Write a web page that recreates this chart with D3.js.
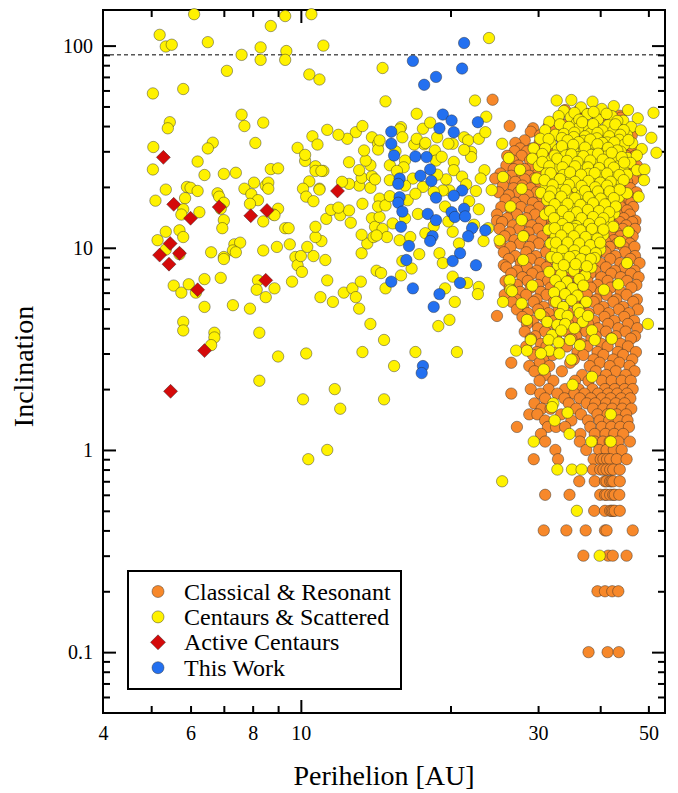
<!DOCTYPE html>
<html><head><meta charset="utf-8">
<script src="https://cdn.jsdelivr.net/npm/d3@7"></script>
<style>body{margin:0;background:#fff}svg{display:block}</style>
</head><body>
<svg id="chart" width="678" height="793"></svg>
<script>
// ---------- axis ticks ----------
const xTickLabels = [4, 6, 8, 10, 30, 50];
const xMinorTicks = [5, 6, 7, 8, 9, 20, 30, 40, 50];
const xMajorTicks = [10];
const yTickLabels = [0.1, 1, 10, 100];
const yMajorTicks = [0.1, 1, 10, 100];
const yMinorTicks = [0.06,0.07,0.08,0.09,0.2,0.3,0.4,0.5,0.6,0.7,0.8,0.9,2,3,4,5,6,7,8,9,20,30,40,50,60,70,80,90];
const seriesNames = ["Classical & Resonant", "Centaurs & Scattered", "Active Centaurs", "This Work"];
const referenceInclination = 90;
const xTitle = "Perihelion [AU]";
const yTitle = "Inclination";

// ---------- Classical & Resonant : rows of [inclination, [perihelion AU ...]] ----------
const classicalRows = [
[54,[24.3]],[48,[34.0,36.3]],[46,[37.6,41.0]],[45,[43.8]],[44,[33.0,36.0,40.0,44.0]],[43,[39.5]],
[40.5,[34.0,36.5,39.0,42.5]],[40,[26.3,31.5]],[39,[29.3]],[38,[32.5,35.0,37.5,40.0,42.5]],
[37.5,[29.0,44.8]],[36,[30.3,43.5,46.3]],[34.5,[33.5,36.0,38.5,41.5]],[34,[28.2,31.6,44.5]],[33,[27.0,30.2,42.6,45.6]],
[31.5,[32.0,34.5,37.0,39.5,42.0]],
[31,[27.6,29.2,43.2,46.5]],[30,[26.9,28.5,31.0,33.5,44.3]],[28.5,[26.0,27.8,29.6,45.2,47.0]],[28,[31.0,33.5,38.5,41.0]],
[27,[26.7,28.9,30.5,43.6,46.1]],[26,[36.0]],[25.5,[25.9,27.4,29.3,44.7,47.4]],[25,[32.0,34.5,37.5,40.0,42.5]],[24.5,[26.8,28.2,31.2,43.1,45.8]],
[23.3,[25.2,27.6,30.0,44.6,47.2]],[22.7,[26.5,28.8,43.3,45.9]],[22.3,[33.0,35.5,38.0,41.0]],[22,[24.6,29.5,31.6,39.5,42.9]],
[21.8,[25.8,28.2,44.0,46.6]],[21.2,[27.0,30.8,45.3]],[20.5,[32.0,34.5,37.0,40.0,42.5]],[20.3,[25.5,27.9,30.3,44.8]],[19.7,[26.8,29.0,43.5,46.0]],
[19,[33.5,36.0,38.5,41.5]],
[18.8,[25.0,27.4,29.8,44.2,47.3]],[18.2,[26.2,28.6,31.2,42.9,45.5]],[18,[35.0]],[17.6,[32.0,34.5,37.5,40.0,42.0]],
[17.3,[25.8,28.1,30.6,44.9]],[16.7,[27.0,29.3,43.6,46.2]],[16.3,[33.0,35.5,38.5,41.5]],[16,[40.5]],
[15.9,[25.3,27.7,30.1,44.0,46.6]],[15.3,[26.5,28.9,31.5,42.7,45.3]],[14.8,[32.0,34.0,36.5,39.5,41.5]],
[14.6,[24.8,27.2,29.6,43.3,45.9]],[14.0,[26.0,28.4,30.9,38.0,44.6]],[13.9,[33.0,35.5,40.0]],[13.6,[24.8,34.5,47.1]],
[13.4,[25.4,27.9,30.4,43.8,46.4]],[12.9,[26.7,29.1,32.0,34.0,37.5,40.5,42.5,45.1]],
[12.4,[25.1,27.5,30.0,44.4,47.0]],[11.9,[26.3,28.7,31.4,41.0,43.1,45.7]],[11.7,[33.0,35.5,38.5,42.0]],
[11.4,[25.7,28.1,30.6,43.9,46.5]],[10.9,[26.9,29.3,33.0,42.6,45.2]],[10.7,[32.0,34.5,36.5,39.5,41.0]],
[10.5,[25.2,27.6,30.1,37.0,43.3,45.9]],[10.1,[26.4,28.8,31.6,41.8,44.6,46.9]],[9.8,[33.0,35.5,38.0,40.5]],
[9.5,[25.6,28.4,31.1,34.2,41.0,44.9]],[9.1,[27.0,29.7,32.6,39.2,42.9,47.0]],[9.0,[33.5,36.5,38.0]],
[8.8,[26.2,29.0,31.8,38.2,41.9,46.0]],[8.4,[27.7,30.3,33.3,40.0,43.9,48.0]],[8.2,[25.6,35.2,36.8]],
[8.0,[25.9,28.5,31.2,34.1,37.3,41.1,44.8]],[7.7,[27.2,29.8,32.7,35.7,39.1,42.8,46.9]],
[7.45,[26.5,29.2,32.0,35.0,38.2,42.1,46.1]],[7.15,[27.9,30.5,33.5,36.5,40.2,44.0,47.8]],
[6.85,[25.8,28.6,31.4,34.4,37.7,41.4,45.3]],[6.55,[27.2,30.0,32.9,36.0,39.5,43.3,47.3]],
[6.35,[26.3,29.0,31.8,35.0,38.3,42.0,46.2]],[6.05,[27.6,30.4,33.4,36.6,40.1,44.0]],
[5.85,[25.7,28.4,31.2,34.3,37.6,41.2,45.2]],[5.55,[27.1,29.8,32.7,35.9,39.3,43.1,47.4]],
[5.4,[26.6,29.4,32.3,35.4,38.8,42.5,46.6]],[5.1,[28.0,30.8,33.8,37.0,40.6,44.5]],
[4.95,[27.2,30.0,33.0,36.2,39.7,43.6,47.6]],[4.75,[28.6,31.5,34.6,37.9,41.6,45.7]],[4.6,[24.8]],
[4.55,[27.9,30.8,33.8,37.1,40.8,44.7]],[4.35,[29.3,32.3,35.4,38.9,42.7,46.8]],
[4.2,[28.5,31.4,34.5,37.8,41.5,45.5]],[4.0,[30.0,32.9,36.1,39.6,43.5,47.5]],
[3.85,[28.2,31.0,34.2,37.5,41.1,45.0]],[3.65,[29.6,32.6,35.8,39.2,43.0,47.0]],
[3.55,[29.0,31.9,35.0,38.4,42.1,46.1]],[3.35,[30.4,33.4,36.7,40.2,44.0]],
[3.25,[28.4,31.2,34.3,37.7,41.4,45.5]],[3.05,[29.8,32.8,36.0,39.5,43.4,47.2]],
[2.95,[29.3,32.1,37.0,40.6,44.5]],[2.8,[30.7,35.4,38.8,42.5,46.4]],
[2.7,[26.5,30.2,34.8,39.9,43.7]],[2.6,[28.8,31.6,38.1,41.8,45.8]],
[2.45,[29.5,33.5,39.2,43.0,46.9]],[2.35,[31.0,36.8,41.1,45.0]],
[2.2,[30.2,32.2,35.6,37.9,40.3,42.2,44.2,46.1]],
[2.0,[29.0,31.5,34.0,36.2,38.6,40.9,42.8,44.8,46.5]],
[1.9,[26.5,30.3,32.8,35.5,37.2,39.6,41.5,43.3,45.3]],
[1.8,[31.0,33.9,36.4,38.3,40.3,42.0,44.1,46.0]],
[1.7,[29.5,34.6,37.6,39.1,41.1,43.0,44.8]],
[1.6,[30.5,31.8,35.8,38.7,40.6,42.3,44.3,46.2]],
[1.5,[28.8,29.9,33.4,36.6,39.5,41.4,43.2,45.1]],
[1.4,[31.0,35.0,37.8,39.9,41.7,43.6,45.4]],
[1.3,[27.2,31.4,32.6,34.0,38.2,40.3,42.1,43.9,45.7]],
[1.2,[30.4,36.5,39.0,41.0,42.7,44.5]],
[1.1,[31.0,36.4,39.0,40.5,41.8,43.5,45.9]],
[1.0,[32.5,37.5,39.8,41.2,42.6,44.2]],
[0.9,[29.4,32.9,38.8,40.1,40.6,41.3,41.9,43.2,45.2]],
[0.8,[38.7,40.0,40.6,41.2,41.9,42.5,43.8]],
[0.7,[36.3,39.0,40.9,41.2,41.9,42.2,42.5,43.8]],
[0.6,[31.0,34.7,40.0,40.9,41.2,41.9,42.5,42.8,43.7]],
[0.5,[38.9,40.9,41.9,42.2,42.5,42.8,43.8]],
[0.4,[30.8,34.2,37.4,40.9,41.2,46.5]],
[0.3,[37.0,41.5,42.4,45.2]],
[0.2,[39.5,40.9,42.3,43.5]],
[0.1,[37.9,41.4,43.6]]
];

// ---------- Centaurs & Scattered beyond ~25 AU : [perihelion AU, inclination] ----------
const scatteredOuter = [
[32.7,53.5],[35.0,53.8],[38.6,52.8],[42.6,50.2],[45.5,48.0],[51.2,46.5],[33.8,47.5],[36.6,49.5],[40.3,48.6],[34.9,44.2],[37.7,45.8],[39.6,43.1],[42.2,44.8],[44.5,42.5],[47.6,43.7],[31.6,42.0],[35.9,41.5],
[35.5,46.5],[38.8,47.0],[41.2,46.0],[43.3,42.4],[36.3,43.0],[33.0,44.8],
[33.2,40.8],[37.4,40.2],[39.3,39.0],[41.5,40.4],[43.6,38.6],[46.2,39.6],[31.0,38.1],[34.7,37.4],[36.1,38.9],[38.2,36.7],[40.7,36.3],[42.4,37.6],[45.3,36.0],[32.5,36.2],[50.7,35.0],[48.3,38.1],
[34.6,39.6],[36.8,41.8],[38.7,40.9],[40.4,38.0],[42.9,40.8],[44.6,38.2],[33.8,36.6],[35.5,37.1],[37.3,35.6],[39.5,37.0],[41.7,35.6],[43.9,36.2],
[30.3,34.6],[33.5,34.9],[35.4,35.3],[37.0,33.8],[39.4,34.8],[41.3,33.2],[43.7,34.2],[46.4,32.9],[31.8,32.9],[34.2,32.4],[36.5,31.6],[38.5,32.1],[40.2,31.0],[42.6,31.5],[44.7,32.3],[29.4,31.0],[32.9,30.6],[35.3,30.2],[37.6,29.8],[39.7,30.7],[44.0,29.9],[48.5,30.8],[51.9,29.5],
[31.5,34.5],[34.4,34.0],[36.2,33.3],[38.2,34.3],[40.4,33.0],[42.7,33.2],[45.6,34.1],[33.5,31.8],[35.3,32.3],[37.3,31.3],[39.5,32.5],[41.5,31.2],[43.3,30.3],[31.0,31.0],
[30.6,29.1],[34.1,28.6],[36.1,28.1],[38.4,28.8],[41.2,28.3],[42.9,27.4],[45.4,27.8],[47.4,28.6],[29.2,27.6],[31.9,27.2],[33.2,26.3],[35.3,26.6],[37.2,26.0],[39.3,26.9],[40.6,25.6],[43.5,25.3],[46.0,26.3],[26.2,27.8],[30.1,25.4],[32.5,24.9],[34.5,24.4],[36.6,24.8],[38.8,24.1],[41.7,24.5],[44.6,24.0],[47.4,24.2],[49.1,24.4],[27.6,24.3],[25.4,32.7],
[32.4,28.6],[35.0,29.0],[37.0,28.4],[39.6,29.2],[42.2,29.5],[44.2,28.1],[30.6,26.6],[32.8,27.6],[34.3,26.9],[36.0,26.6],[38.2,27.0],[40.5,27.3],[41.8,26.1],[44.7,26.4],[31.6,25.3],[33.6,25.0],[35.6,25.3],[37.8,25.0],[39.8,24.8],[42.6,24.9],
[31.2,23.3],[33.7,22.9],[35.6,22.5],[37.9,23.2],[40.1,22.7],[42.6,22.2],[45.3,23.0],[29.8,22.0],[32.3,21.6],[34.8,21.3],[36.9,21.8],[39.2,20.9],[41.1,21.5],[43.4,21.1],[49.0,21.6],[25.5,22.4],[31.1,20.3],[33.5,20.0],[35.9,19.7],[38.2,20.2],[40.4,19.5],[42.2,19.9],[27.8,19.6],[30.4,18.7],[32.7,18.6],[34.3,18.2],[36.7,18.4],[38.9,18.0],[41.4,18.3],[43.6,17.8],[45.3,18.6],[47.8,17.9],
[31.8,23.4],[34.8,23.6],[36.6,23.0],[39.0,23.4],[41.3,23.3],[43.7,22.9],[30.9,21.6],[33.2,21.9],[35.6,21.2],[37.9,21.4],[40.0,21.0],[42.0,21.2],[44.6,21.6],[32.1,20.4],[34.6,20.5],[36.7,20.2],[39.1,19.9],[41.3,20.3],
[31.3,17.2],[33.8,16.8],[35.4,16.4],[37.6,16.9],[39.9,16.2],[42.0,16.6],[26.4,16.0],[32.2,15.6],[34.5,15.3],[36.6,15.7],[38.6,15.1],[40.8,15.4],[42.7,14.8],[31.0,14.6],[33.3,14.2],[35.7,14.4],[37.8,14.0],[39.7,14.5],[41.6,13.9],[27.8,13.7],[32.4,13.2],[34.9,13.1],[36.9,13.5],[39.0,13.0],[40.9,12.8],[42.5,12.7],
[31.9,19.0],[34.1,19.3],[37.3,19.1],[39.6,19.0],[41.8,19.0],[43.8,19.4],[31.6,17.9],[33.4,17.9],[35.6,17.6],[37.9,17.8],[40.1,17.5],[42.6,17.6],[32.4,16.4],[34.4,16.5],[36.5,16.3],[38.7,16.6],[40.9,16.4],[43.0,16.0],[31.7,15.2],[33.6,15.2],[35.9,15.0],[37.8,15.4],[39.8,15.2],[41.7,15.0],[32.3,14.0],[34.6,14.2],[36.7,14.0],[38.7,14.2],[40.6,14.0],[33.6,13.1],[35.8,12.8],[38.0,13.1],[40.0,13.3],
[31.5,12.3],[33.6,12.1],[35.5,12.4],[37.4,11.9],[39.5,12.0],[45.6,12.0],[28.0,11.4],[32.5,11.3],[34.4,11.5],[36.4,11.1],[38.4,11.2],[40.6,11.6],[31.8,10.5],[33.4,10.2],[35.3,10.6],[37.2,10.3],[39.1,10.5],[43.8,10.7],[25.1,10.9],[32.6,9.7],[34.6,9.5],[36.3,9.9],[38.2,9.6],[40.0,9.8],
[32.4,12.5],[34.5,12.5],[36.5,12.2],[38.5,12.4],[40.6,12.3],[33.4,11.5],[35.4,11.4],[37.4,11.3],[39.5,11.1],[32.6,10.6],[34.4,10.6],[36.3,10.5],[38.2,10.3],[40.0,10.6],[33.6,9.7],[35.5,9.7],[37.3,9.6],[39.2,9.4],
[31.9,9.0],[33.8,8.8],[35.6,9.1],[37.5,8.7],[39.0,8.9],[28.0,8.7],[32.9,8.2],[34.8,8.0],[36.7,8.3],[38.4,8.0],[45.3,8.4],[31.6,7.6],[33.4,7.4],[35.4,7.7],[37.3,7.3],[32.5,6.9],[34.3,6.8],[36.3,7.0],[26.3,6.9],[33.2,6.4],[35.2,6.3],[37.0,6.5],[43.5,6.6],[29.2,6.5],[26.4,6.2],[40.7,6.2],[26.6,6.1],[32.3,6.0],[34.0,5.9],[36.0,5.8],
[32.8,8.9],[34.7,9.0],[36.6,8.8],[38.3,8.8],[33.8,8.2],[35.7,8.3],[37.6,8.1],
[25.5,5.4],[32.6,5.4],[35.0,5.5],[37.5,5.4],[27.8,5.3],[33.7,5.1],[36.1,5.0],[30.3,4.7],[33.2,4.7],[36.4,4.75],[34.4,4.6],[28.5,4.4],[31.3,4.3],[36.9,4.3],[49.9,4.2],[32.8,4.15],[34.0,4.2],[35.5,4.0],[37.8,4.6],[32.0,3.7],[33.4,3.9],[38.5,3.9],[29.0,3.5],[31.5,3.5],[34.8,3.5],[39.0,3.5],[42.2,3.55],[33.0,3.4],[36.4,3.3],[27.1,3.1],[28.5,3.1],[31.6,3.1],[30.4,3.0],[33.1,3.0],[35.0,2.8],
[30.8,2.5],[38.5,2.3],[35.2,2.1],[32.2,1.7],[32.0,1.63],[34.4,1.53],[42.0,1.5],[32.4,1.4],[34.7,1.2],[29.4,1.1],[38.4,1.1],[42.0,1.1],[32.8,0.8],[35.1,0.8],[36.7,0.8],[25.4,0.7],[35.9,0.5],[39.9,0.3]
];

// ---------- Centaurs & Scattered inside ~25 AU : [perihelion AU, inclination] ----------
const scatteredInner = [
[6.1,143],[5.2,113],[5.35,99],[5.5,101],[6.5,104],[7.6,90],[8.3,98],[8.3,85],[8.7,125],[9.3,140],[9.35,94],[9.3,85],[10.5,143],[11.1,100],[7.1,75],[5.04,58],[5.8,61],[10.4,72],[10.9,68],[14.6,77.5],[23.9,109],
[7.6,45.5],[7.7,40],[8.4,41.6],[5.45,41.8],[5.4,39],[8.1,33],[5.05,31.5],[6.65,33.1],[6.5,31],[5.04,24.4],[6.2,26.7],[6.4,22.9],[7.0,23.2],[7.4,23.5],[8.7,24.5],[9.0,24.7],
[11.3,38.3],[10.55,35.6],[10.8,32.4],[9.85,31.2],[10.2,26.9],[10.2,28.8],[10.7,25.3],[11.1,24],[10.7,24],[10.4,21.3],[10.1,19.6],[10.25,17.9],[10.6,17],[10.9,19.6],
[8.05,21],[7.7,19.6],[7.95,18.4],[8.5,20.3],[8.6,21],[8.2,17.2],[7.9,16.5],[9.0,15.6],[8.8,14.6],[8.4,13.5],[9.3,12.5],[9.45,12.5],[9.5,10.4],[8.95,10.1],[8.4,9.7],[7.35,10.4],[7.55,10.6],[7.3,9.7],[6.6,9.5],[7.0,9.0],
[5.35,19.4],[5.1,17.1],[5.85,17.6],[5.8,15.5],[5.75,14.6],[5.9,20],[6.0,19.8],[6.2,19.1],[6.25,15],[6.8,18.6],[6.85,17.9],[7.0,16.7],[6.9,15.6],[7.0,13.7],[6.95,12.5],[5.7,12.2],[5.8,11.3],[5.35,12],[5.15,10.9],[5.7,9.3],
[8.6,19.6],[8.85,14.5],[5.35,9.8],[7.0,8.8],[7.4,9.5],[9.75,9.0],
[5.55,6.5],[5.75,6.0],[5.95,6.6],[6.4,7.0],[6.9,7.1],[6.15,6.0],[6.4,5.1],[7.3,5.2],[7.9,5.0],[8.2,6.9],[8.15,6.2],[8.5,5.7],[8.85,6.3],[9.6,6.8],[9.85,8.2],
[5.8,4.3],[5.8,3.9],[6.7,3.8],[6.7,3.6],[6.6,3.3],[8.25,3.8],[9.0,2.9],[8.25,2.2],
[14.8,53],[17.1,46],[22.4,53.5],[23.6,44.5],[17.6,38.8],[18.2,41.6],[18.8,35.2],[15.9,39.5],[20.2,32.7],[21.3,35.2],[21.7,34],[22.8,34.6],[23.5,37.3],[22,29.8],[22,28.1],[18.6,30.3],[18.7,27],[17.7,32.5],[16.9,32.4],[16.2,27],[15.1,25.6],[20.3,26.6],[20.3,24.2],[21.1,22.5],[19.6,21.8],[19.9,19.2],[19.3,19.2],[22.5,19.1],[23.4,24.2],[24.2,19.3],[18.5,18.9],[17.2,14.7],[16.4,17.2],[20.2,12],[19,9.4],[19.3,8.4],[23.3,10.8],[22.8,6.4],[22.7,5.9],[20.4,5.4],[19.9,4.4],[18.9,4.1],[19.5,6.3],[20.2,7.2],[21.6,6.7],[17.3,9.3],[16.7,7.9],[16,8.6],[15.9,7.3],[14.8,6.3],[14.2,7.7],[14.5,7.5],[13.8,4.2],[14.7,3.5],[13.3,3.05],[15.4,2.6],[17,3.05],[20.6,3.05],[10.25,3.0],[11.7,2.0],[10.95,5.7],[11.6,5.4],[12.2,6],[12.7,6.3],[13.2,6.8],[12.9,5.7],[13.1,5],[11.3,6.9],[10.05,7.6],[10.6,9.1],[11.2,8.7],[10,9.1],[13.25,9.4],[13.6,10.5],[14,11.3],[13.25,11.6],[11,10.8],[10.3,10.1],[10.7,11.3],[10.7,12.7],[12.6,13.3],[11.25,13.9],[12,14.5],[12.5,15.3],[11.5,15.4],[11.9,15.8],[13.3,16.5],[13.9,14],[14.1,12.7],[14.4,14.2],[14.6,12.4],[14.9,11.3],[15.8,10.9],[14.2,11.5],[14.4,17.5],[14.3,16],[14.8,16.2],[15.1,18],[16.6,11.3],[15.3,13.2],[13.8,19.8],[13.1,20.3],[13.25,22.2],[13.9,22.6],[14.1,21.8],[13.8,25.6],[13.5,27],[13.4,30.3],[12.9,37.3],[13.3,40],[13.9,35.2],[14.3,32.7],[14.3,30.6],[12.4,34.6],[11.9,36.2],[10.9,19.4],[11,24],[12.5,26.5],[13.1,24.2],[12.5,20.7],[12.1,21.2],[15.1,21.6],[16.1,25],[14.4,34],[15.8,38.5],[16,35.2],[17.1,34.6],[17.8,33],[19.8,32.7],[21.3,30.5],
[15.6,24],[16.8,22],[17.6,20],[18.8,23],[19.5,16],[21.8,17],[22.8,15.5],[21.5,20.6],[17,18.5],[16.2,14],[18.5,12.8],[19.8,13.5],[22.3,13],[23.8,12.5],[20.8,10.5],[17.8,11.8],[16.2,20.3],[23,22],[15.5,30],[19.2,28.2],
[10.1,1.78],[12,1.6],[11.3,1.0],[10.35,0.9],[14.7,1.78]
];

// ---------- Active Centaurs [AU, inclination] ----------
const activeCentaurs = [
[5.29,28],[5.55,16.4],[6.0,14.0],[6.85,15.9],[7.93,14.4],[8.55,15.3],[5.46,10.5],[5.2,9.2],[5.7,9.4],[5.43,8.3],[6.2,6.2],[8.5,6.9],[6.4,3.1],[5.47,1.95],[11.85,19.1]
];

// ---------- This Work [AU, inclination] ----------
const thisWork = [
[19.3,45.6],[20.1,42.6],[19.0,39],[20.3,37.3],[22.7,41.8],[15.2,37.5],[15.2,32.7],[15.4,28.6],[17.0,28.3],[17.9,28.1],[18.2,24.4],[17.4,22.7],[18.3,21.4],[15.8,22],[15.7,20.7],[18.7,17.7],[21.1,19.2],[20.3,18.1],[15.8,17.8],[15.7,16.7],[16.0,15.1],[18.0,14.7],[18.7,13.7],[20.1,15],[21.3,15.6],[20.4,14.2],[21.4,14.3],[22.1,12.5],[21.7,11.4],[23.5,12.2],[15.9,12.7],[18.4,11.4],[18.2,10.8],[16.5,10.2],[20.9,9.4],[20.2,8.6],[22.5,8.2],[16.3,8.7],[15.2,6.8],[16.8,6.3],[20.9,6.7],[19.0,5.9],[18.5,5.1],[17.6,2.6],[17.5,2.4],
[16.8,84],[18.7,70],[17.7,64],[21.3,103],[21.1,77]
];

// ---------- build ----------
const classical = classicalRows.flatMap(([inc, aus]) => aus.map(a => [a, inc]));
const scattered = scatteredInner.concat(scatteredOuter);

const L = 103, R = 665, T = 10, B = 713;
const x = d3.scaleLog().domain([4, 54]).range([L, R]);
const y = d3.scaleLog().domain([0.05, 150]).range([B, T]);
const svg = d3.select("#chart");
const FONT = "'Liberation Serif','Times New Roman',serif";

const colors = {orange:"#f7882a", yellow:"#fff200", red:"#d40a0a", blue:"#2370f0"};
const strokeC = "rgba(40,40,40,0.55)";

// reference line
svg.append("line").attr("x1", L).attr("x2", R)
  .attr("y1", y(referenceInclination)).attr("y2", y(referenceInclination))
  .attr("stroke", "#000").attr("stroke-width", 1).attr("stroke-dasharray", "4,3");

// axes ticks
function tickAxis(gen, vals, size, tr) {
  const g = svg.append("g").attr("transform", tr)
    .call(gen.tickValues(vals).tickSize(-size).tickFormat(""));
  g.select(".domain").remove();
  g.selectAll("line").attr("stroke", "#000").attr("stroke-width", 2);
  return g;
}
tickAxis(d3.axisBottom(x), xMinorTicks, 7, `translate(0,${B})`);
tickAxis(d3.axisBottom(x), xMajorTicks, 13, `translate(0,${B})`);
tickAxis(d3.axisTop(x), xMinorTicks, 7, `translate(0,${T})`);
tickAxis(d3.axisTop(x), xMajorTicks, 13, `translate(0,${T})`);
tickAxis(d3.axisLeft(y), yMinorTicks, 7, `translate(${L},0)`);
tickAxis(d3.axisLeft(y), yMajorTicks, 13, `translate(${L},0)`);
tickAxis(d3.axisRight(y), yMinorTicks, 7, `translate(${R},0)`);
tickAxis(d3.axisRight(y), yMajorTicks, 13, `translate(${R},0)`);

// tick labels
const xl = svg.append("g").attr("transform", `translate(0,${B})`)
  .call(d3.axisBottom(x).tickValues(xTickLabels).tickSize(0).tickPadding(13).tickFormat(d3.format("d")));
xl.select(".domain").remove();
xl.selectAll("text").attr("font-family", FONT).attr("font-size", 20).attr("fill", "#000");
const yl = svg.append("g").attr("transform", `translate(${L},0)`)
  .call(d3.axisLeft(y).tickValues(yTickLabels).tickSize(0).tickPadding(10).tickFormat(d => String(d)));
yl.select(".domain").remove();
yl.selectAll("text").attr("font-family", FONT).attr("font-size", 20).attr("fill", "#000");

// frame
svg.append("rect").attr("x", L).attr("y", T).attr("width", R - L).attr("height", B - T)
  .attr("fill", "none").attr("stroke", "#000").attr("stroke-width", 2);

// titles
svg.append("text").attr("x", (L + R) / 2).attr("y", 785).attr("text-anchor", "middle")
  .attr("font-family", FONT).attr("font-size", 28).text(xTitle);
svg.append("text").attr("transform", `translate(33,${(T + B) / 2 + 5}) rotate(-90)`).attr("text-anchor", "middle")
  .attr("font-family", FONT).attr("font-size", 28).text(yTitle);

// marks
const RAD = 5.7;
function circles(data, fill) {
  svg.append("g").selectAll("circle").data(data).join("circle")
    .attr("cx", d => x(d[0])).attr("cy", d => y(d[1])).attr("r", RAD)
    .attr("fill", fill).attr("stroke", strokeC).attr("stroke-width", 0.8);
}
const diamond = s => `M0,${-s}L${s},0L0,${s}L${-s},0Z`;
circles(classical, colors.orange);
circles(scattered, colors.yellow);
svg.append("g").selectAll("path").data(activeCentaurs).join("path")
  .attr("transform", d => `translate(${x(d[0])},${y(d[1])})`)
  .attr("d", diamond(7)).attr("fill", colors.red).attr("stroke", strokeC).attr("stroke-width", 0.8);
circles(thisWork, colors.blue);

// legend
const lg = svg.append("g");
lg.append("rect").attr("x", 128).attr("y", 571).attr("width", 273).attr("height", 118)
  .attr("fill", "#fff").attr("stroke", "#000").attr("stroke-width", 2);
const legendColors = [colors.orange, colors.yellow, colors.red, colors.blue];
seriesNames.forEach((name, i) => {
  const cy = 591.5 + i * 25.4;
  if (i === 2) {
    lg.append("path").attr("transform", `translate(158,${cy})`).attr("d", diamond(7.5))
      .attr("fill", legendColors[i]).attr("stroke", strokeC).attr("stroke-width", 0.8);
  } else {
    lg.append("circle").attr("cx", 158).attr("cy", cy).attr("r", 6)
      .attr("fill", legendColors[i]).attr("stroke", strokeC).attr("stroke-width", 0.8);
  }
  lg.append("text").attr("x", 184).attr("y", cy + 8).attr("font-family", FONT)
    .attr("font-size", 24).text(name);
});
</script>
</body></html>
